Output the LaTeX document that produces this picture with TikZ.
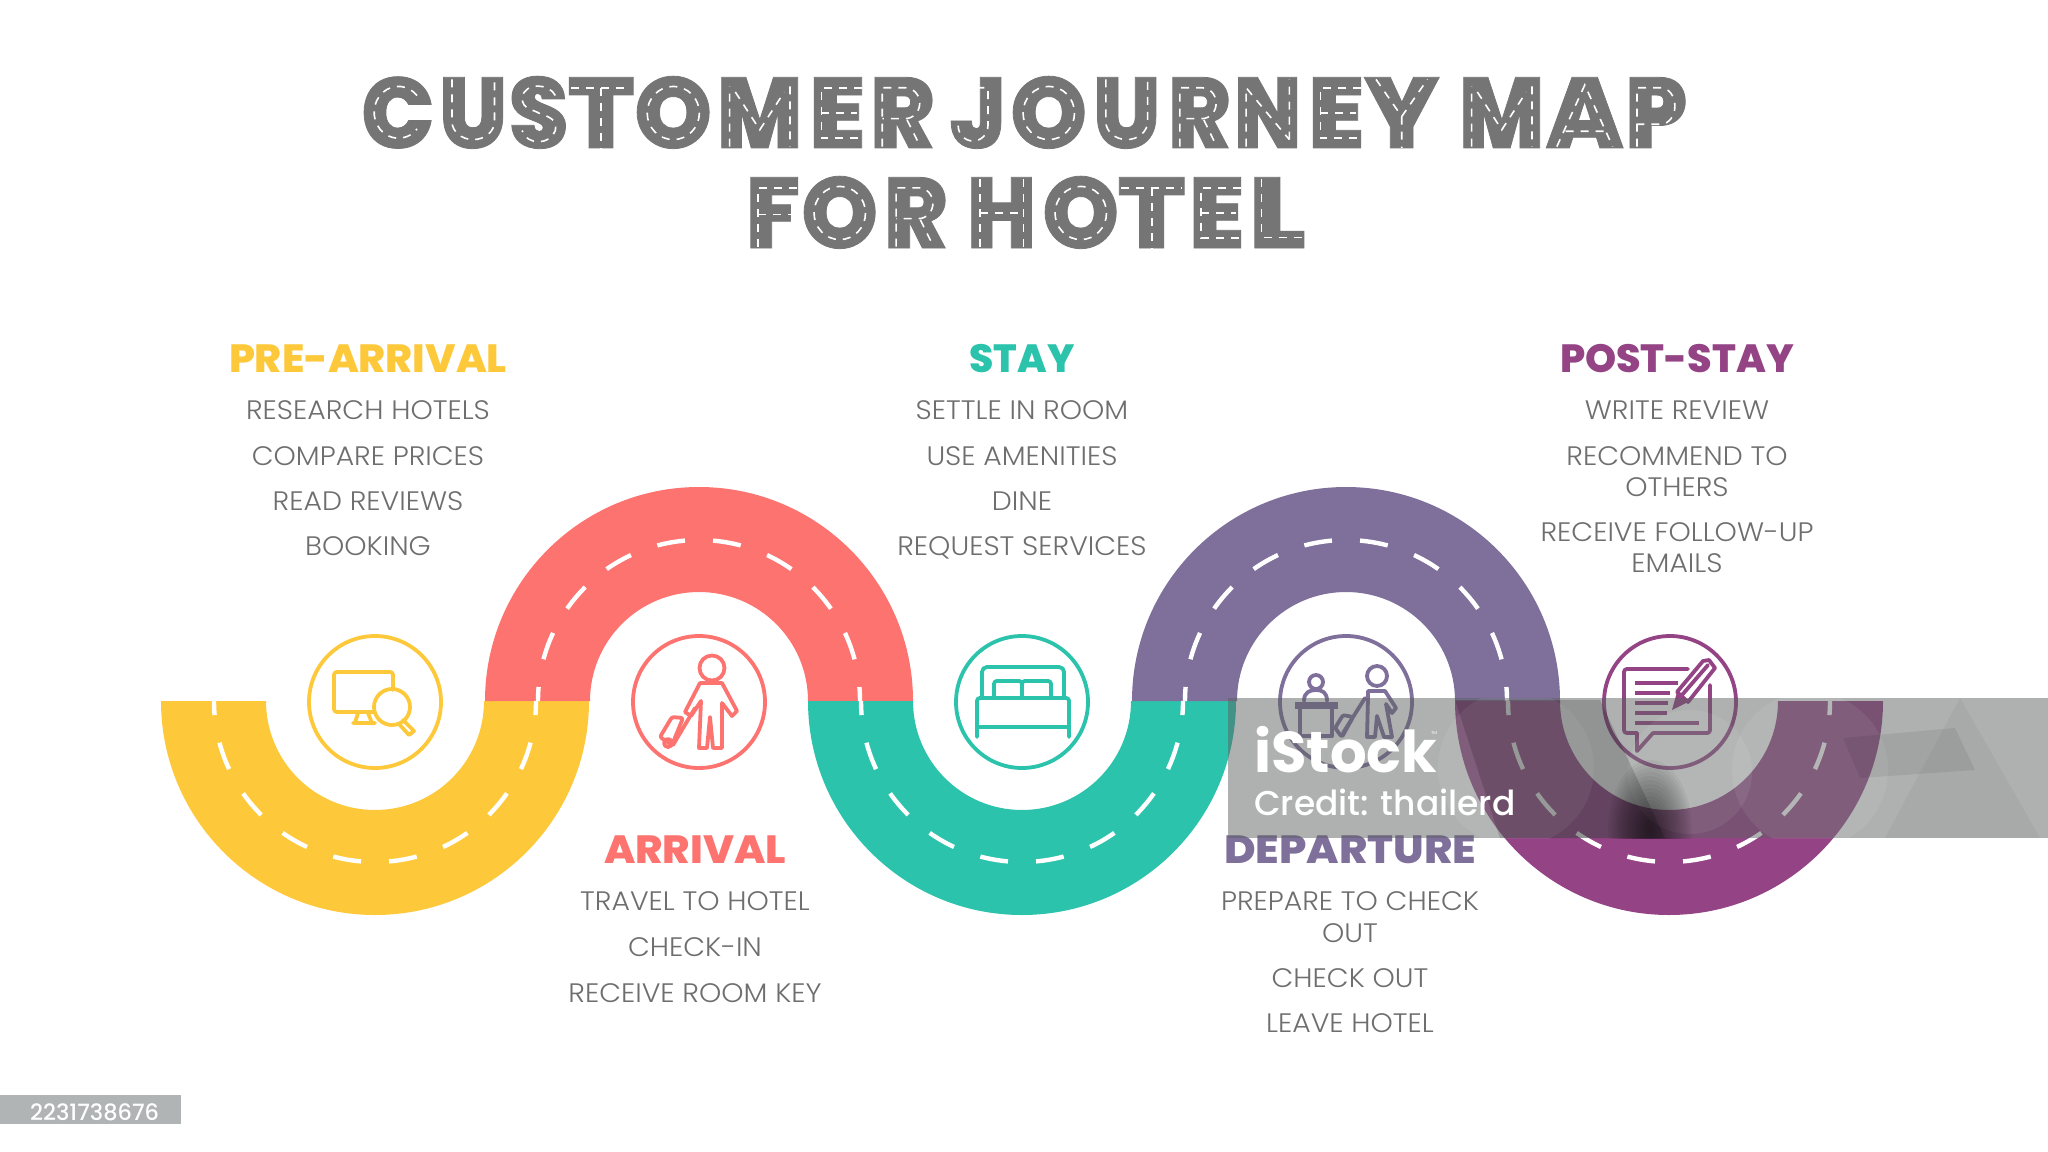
\documentclass[tikz,border=0pt]{standalone}
\usepackage{fontspec}
\usepackage{graphicx}
\setmainfont{Poppins}
\newfontfamily\blackf[FakeBold=0.8]{Poppins Black}
\newfontfamily\xbf{Poppins ExtraBold}
\newfontfamily\lightf[FakeStretch=1.06]{Poppins Light}
\newfontfamily\sbf{Poppins Bold}
\newfontfamily\medf{Poppins Medium}
\definecolor{cyel}{HTML}{FDC93B}
\definecolor{cred}{HTML}{FD7370}
\definecolor{cteal}{HTML}{2BC3AB}
\definecolor{cpur}{HTML}{7E6F9B}
\definecolor{cplum}{HTML}{944385}
\definecolor{ctitle}{HTML}{757575}
\definecolor{cbody}{HTML}{6E6E6E}
\definecolor{cband}{RGB}{92,97,97}
\definecolor{ctag}{HTML}{B0B4B4}
\newdimen\pxu \pxu=0.05cm
\newcount\curx
\newcommand\Lt[3]{\kern\numexpr#2-\curx-2\relax\pxu\resizebox{\numexpr#3-#2+4\relax\pxu}{\height}{#1}\kern-2\pxu\global\curx=#3\relax}
\newcommand\earc[6]{({#1+#3*cos(#5)},{#2+#4*sin(#5)}) arc[start angle=#5,end angle=#6,x radius=#3,y radius=#4]}
\newcommand\rpC{\earc{51}{49}{35}{37}{-40}{-320}}
\newcommand\rpO{\earc{50}{50}{35}{38}{0}{360}}
\newcommand\rpU{(17,2)--(17,62) arc[start angle=180,end angle=0,x radius=33,y radius=26]--(83,2)}
\newcommand\rpS{(80,25) .. controls (70,8) and (25,5) .. (20,28) .. controls (20,45) and (40,45) .. (50,50) .. controls (65,55) and (85,58) .. (80,75) .. controls (72,95) and (30,98) .. (20,75)}
\newcommand\rpT{(2,14)--(98,14) (50,14)--(50,100)}
\newcommand\rpM{(13,98)--(13,12) (20,20)--(50,74)--(80,20) (87,12)--(87,98)}
\newcommand\rpE{(98,14)--(20,14)--(20,86)--(98,86) (20,50)--(88,50)}
\newcommand\rpR{(17,98)--(17,14)--(55,14) arc[start angle=-90,end angle=90,x radius=24,y radius=22]--(17,58) (58,60)--(80,98)}
\newcommand\rpJ{(18,14)--(70,14)--(70,68) arc[start angle=0,end angle=180,x radius=29,y radius=22]}
\newcommand\rpN{(16,98)--(16,14)--(84,88) (84,88)--(84,2)}
\newcommand\rpY{(14,2)--(50,55)--(86,2) (50,55)--(50,100)}
\newcommand\rpA{(12,98)--(50,10)--(88,98) (24,76)--(76,76)}
\newcommand\rpP{(17,98)--(17,14)--(58,14) arc[start angle=-90,end angle=90,x radius=24,y radius=26]--(17,66)}
\newcommand\rpF{(98,14)--(20,14)--(20,98) (20,52)--(90,52)}
\newcommand\rpH{(17,2)--(17,98) (83,2)--(83,98) (17,50)--(83,50)}
\newcommand\rpL{(20,2)--(20,85)--(98,85)}
\newcommand\Rd[4]{\begin{scope}[shift={(#2,#4)}]\pgfmathsetmacro\ux{(#3-#2)*0.0005}\begin{scope}[x=\ux cm,y=0.035cm]\draw[titledash] #1;\end{scope}\end{scope}}
\newcommand\lbl[4]{\node[bodytext] (#1) at (#2,#3) {#4};}
\newcommand\hdr[6]{\node[headtext,text=#5] (#1) at (#2,#3) {\resizebox{#6\pxu}{\height}{#4}};}
\newcommand\road[3]{\fill[#2] (#1-214,701) arc[start angle=180,end angle=#3,radius=214] -- (#1+109,701) arc[start angle=#3,end angle=180,radius=109] -- cycle;}
\newcommand\middash[2]{\draw[roaddash] (#1-161,701) arc[start angle=180,end angle=#2,radius=161];}
\tikzset{
 titledash/.style={draw=white,line width=1.6\pxu,dash pattern=on 8\pxu off 7\pxu},
 roaddash/.style={draw=white,line width=4.4\pxu,dash pattern=on 28.1\pxu off 28.1\pxu,dash phase=14\pxu},
 bodytext/.style={anchor=base,inner sep=0,text=cbody,font=\lightf\fontsize{38}{38}\selectfont},
 headtext/.style={anchor=base,inner sep=0,font=\xbf\fontsize{56}{56}\selectfont},
 titletext/.style={anchor=base west,inner sep=0,text=ctitle,font=\blackf\fontsize{142}{142}\selectfont},
 ring/.style={line width=3.8\pxu,line join=round,line cap=round},
}
\begin{document}
\begin{tikzpicture}[x=0.05cm,y=0.05cm,yscale=-1]
\useasboundingbox (0,0) rectangle (2048,1152);
\fill[white] (0,0) rectangle (2048,1152);
% title
\node[titletext] (t1) at (361,148) {\curx=363 \kern2\pxu\Lt{C}{363}{432}\Lt{U}{441}{505}\Lt{S}{511}{566}\Lt{T}{570}{632}\Lt{O}{636}{710}\Lt{M}{719}{800}\Lt{E}{811}{863}\Lt{R}{872}{932}\kern20\pxu\curx=952 \Lt{J}{952}{1003}\Lt{O}{1012}{1085}\Lt{U}{1095}{1158}\Lt{R}{1170}{1228}\Lt{N}{1236}{1299}\Lt{E}{1310}{1362}\Lt{Y}{1366}{1437}\Lt{M}{1461}{1542}\Lt{A}{1548}{1621}\Lt{P}{1627}{1685}};
\node[titletext] (t2) at (746,248) {\curx=748 \kern2\pxu\Lt{F}{748}{798}\Lt{O}{803}{876}\Lt{R}{886}{945}\Lt{H}{969}{1034}\Lt{O}{1044}{1117}\Lt{T}{1120}{1183}\Lt{E}{1191}{1242}\Lt{L}{1251}{1304}};
\Rd{\rpC}{363}{432}{78}\Rd{\rpU}{441}{505}{78}\Rd{\rpS}{511}{566}{78}\Rd{\rpT}{570}{632}{78}\Rd{\rpO}{636}{710}{78}\Rd{\rpM}{719}{800}{78}\Rd{\rpE}{811}{863}{78}\Rd{\rpR}{872}{932}{78}\Rd{\rpJ}{952}{1003}{78}\Rd{\rpO}{1012}{1085}{78}\Rd{\rpU}{1095}{1158}{78}\Rd{\rpR}{1170}{1228}{78}\Rd{\rpN}{1236}{1299}{78}\Rd{\rpE}{1310}{1362}{78}\Rd{\rpY}{1366}{1437}{78}\Rd{\rpM}{1461}{1542}{78}\Rd{\rpA}{1548}{1621}{78}\Rd{\rpP}{1627}{1685}{78}
\Rd{\rpF}{748}{798}{178}\Rd{\rpO}{803}{876}{178}\Rd{\rpR}{886}{945}{178}\Rd{\rpH}{969}{1034}{178}\Rd{\rpO}{1044}{1117}{178}\Rd{\rpT}{1120}{1183}{178}\Rd{\rpE}{1191}{1242}{178}\Rd{\rpL}{1251}{1304}{178}
% roads
\road{375}{cyel}{0}
\road{699}{cred}{360}
\road{1022}{cteal}{0}
\road{1346}{cpur}{360}
\road{1669}{cplum}{0}
\middash{375}{0}\middash{699}{360}\middash{1022}{0}\middash{1346}{360}\middash{1669}{0}
% rings
\node[draw=cyel,ring,circle,minimum size=132\pxu,inner sep=0] (c1) at (375,702) {};
\node[draw=cred,ring,circle,minimum size=132\pxu,inner sep=0] (c2) at (699,702) {};
\node[draw=cteal,ring,circle,minimum size=132\pxu,inner sep=0] (c3) at (1022,702) {};
\node[draw=cpur,ring,circle,minimum size=132\pxu,inner sep=0] (c4) at (1346,702) {};
\node[draw=cplum,ring,circle,minimum size=132\pxu,inner sep=0] (c5) at (1670,702) {};
% search icon
\begin{scope}[cyel,ring]
\draw[rounded corners=4pt] (393,690)--(393,672)--(334,672)--(334,712)--(374,712);
\draw (358,713)--(355,723) (368,713)--(372,723) (353,723)--(375,723);
\draw (392,707) circle[radius=18];
\draw (403,720)--(414,731)--(409,735)--(399,724);
\end{scope}
% traveller icon
\begin{scope}[cred,ring]
\draw (712,668) circle[radius=12.5];
\draw (700,683)--(722,683)--(737,711)--(732,716)--(722,703)--(722,748)--(713,748)--(710,717)--(707,748)--(699,748)--(701,701)--(691,716)--(685,712)--cycle;
\draw (695,708)--(673,745);
\draw[rounded corners=3pt] (672,717)--(683,718)--(672,745)--(660,737)--cycle;
\draw (668,743) circle[radius=4];
\end{scope}
% bed icon
\begin{scope}[cteal,ring]
\draw[rounded corners=7pt] (982,697)--(982,667)--(1064,667)--(1064,697);
\draw[rounded corners=4pt] (994,697)--(994,681)--(1022,681)--(1022,697);
\draw[rounded corners=4pt] (1022,697)--(1022,681)--(1051,681)--(1051,697);
\draw[rounded corners=4pt] (977,737)--(977,698)--(1069,698)--(1069,737);
\draw (977,727)--(1069,727);
\end{scope}
% desk icon
\begin{scope}[cpur,ring]
\draw (1316,682) circle[radius=7];
\draw (1304,701) .. controls (1304,692) and (1310,690) .. (1316,690) .. controls (1322,690) and (1327,692) .. (1327,701);
\fill (1295,702) rectangle (1338,709);
\draw (1300,709)--(1300,736)--(1332,736)--(1332,709);
\draw (1377,676) circle[radius=10];
\draw (1368,691)--(1385,691)--(1396,708)--(1392,713)--(1386,704)--(1392,737)--(1384,737)--(1377,716)--(1375,737)--(1367,737)--(1368,698)--cycle;
\draw (1365,698)--(1343,733);
\draw[rounded corners=3pt] (1343,715)--(1335,728)--(1342,737)--(1353,717)--cycle;
\end{scope}
% review icon
\begin{scope}[cplum,ring]
\draw[rounded corners=4pt] (1688,669)--(1624,669)--(1624,733)--(1637,733);
\draw (1637,733)--(1637,751)--(1653,733);
\draw[rounded corners=4pt] (1653,733)--(1710,733)--(1710,685);
\foreach \ya/\xb in {683/1678,693/1670,703/1668,713/1667,723/1699}{\draw[line cap=butt] (1635,\ya)--(\xb,\ya);}
\draw[line join=round] (1677,692)--(1703,661)--(1709,660)--(1715,668)--(1688,702)--cycle;
\draw (1682,695)--(1708,665);
\fill (1672,710)--(1677,692)--(1688,702)--cycle;
\end{scope}
% labels
\hdr{h1}{368}{372}{PRE-ARRIVAL}{cyel}{278}
\lbl{a1}{368}{419}{RESEARCH HOTELS}
\lbl{a2}{368}{465}{COMPARE PRICES}
\lbl{a3}{368}{510}{READ REVIEWS}
\lbl{a4}{368}{555}{BOOKING}
\hdr{h3}{1022}{372}{STAY}{cteal}{105}
\lbl{s1}{1022}{419}{SETTLE IN ROOM}
\lbl{s2}{1022}{465}{USE AMENITIES}
\lbl{s3}{1022}{510}{DINE}
\lbl{s4}{1022}{555}{REQUEST SERVICES}
\hdr{h5}{1677}{372}{POST-STAY}{cplum}{234}
\lbl{p1}{1677}{419}{WRITE REVIEW}
\lbl{p2}{1677}{465}{RECOMMEND TO}
\lbl{p3}{1677}{496}{OTHERS}
\lbl{p4}{1677}{541}{RECEIVE FOLLOW-UP}
\lbl{p5}{1677}{572}{EMAILS}
\hdr{h2}{695}{863}{ARRIVAL}{cred}{182}
\lbl{r1}{695}{910}{TRAVEL TO HOTEL}
\lbl{r2}{695}{956}{CHECK-IN}
\lbl{r3}{695}{1002}{RECEIVE ROOM KEY}
\hdr{h4}{1350}{863}{DEPARTURE}{cpur}{252}
\lbl{d1}{1350}{910}{PREPARE TO CHECK}
\lbl{d2}{1350}{942}{OUT}
\lbl{d3}{1350}{987}{CHECK OUT}
\lbl{d4}{1350}{1032}{LEAVE HOTEL}
% watermark band
\fill[cband,opacity=0.49] (1228,698) rectangle (2048,838);
\begin{scope}
\clip (1228,698) rectangle (2048,838);
\foreach \cxa/\cya/\cra in {1516/768/78,1690/772/62,1810/770/78}{\fill[white,opacity=0.07] (\cxa,\cya) circle[radius=\cra];}
\fill[black,opacity=0.16] (1455,700)--(1600,700)--(1665,838)--(1500,838)--cycle;
\foreach \sca in {70,66,...,6}{\fill[black,opacity=0.045] (1650,830) ellipse[x radius=0.6*\sca,y radius=\sca];}
\fill[black,opacity=0.04] (1960,698)--(1885,838)--(2040,838)--cycle;
\fill[black,opacity=0.07] (1843,738)--(1955,728)--(1975,770)--(1860,778)--cycle;
\end{scope}
\node[anchor=base west,inner sep=0,text=white,font=\sbf\fontsize{82}{82}\selectfont] (w1) at (1254,772) {iStock};
\node[anchor=base west,inner sep=0,text=white,font=\fontsize{6}{6}\selectfont] (w2) at (1431,734) {TM};
\node[anchor=base west,inner sep=0,text=white,font=\medf\fontsize{49}{49}\selectfont] (w3) at (1254,815) {Credit: thailerd};
\fill[ctag] (0,1095) rectangle (181,1124);
\node[anchor=base west,inner sep=0,text=white,font=\medf\fontsize{32}{32}\selectfont] (w4) at (30,1120) {2231738676};
\end{tikzpicture}
\end{document}
